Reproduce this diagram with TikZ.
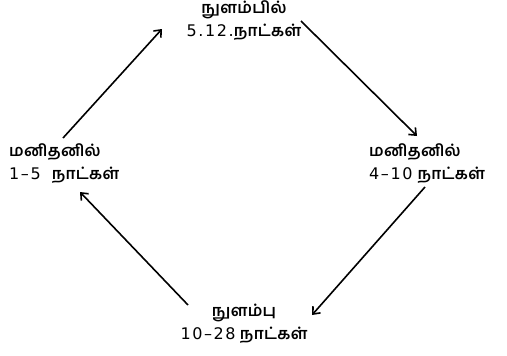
\documentclass[tikz,border=0pt]{standalone}
\usepackage{fontspec}
\usepackage{tikz}
\usetikzlibrary{arrows.meta}
\newfontfamily\tamilfont[Script=Tamil,LetterSpace=2]{Hind Madurai}
\newfontfamily\numfont[LetterSpace=10]{DejaVu Sans}

\begin{document}
\begin{tikzpicture}[x=1pt,y=-1pt]

		\tikzset{
            stage/.style={
                inner sep=0pt,
                font=\tamilfont\bfseries\fontsize{16}{23}\selectfont
            },
            cycle/.style={
                line width=1.6pt,
                -{Straight Barb[length=6pt,width=10pt,line width=1.6pt]}
            }
        }

        \newcommand{\Days}[1]{{\numfont\mdseries #1}}

        \useasboundingbox (0,0) rectangle (507,356);

        \node[stage, align=center] (mosqTop) at (244,21) {நுளம்பில்\\\Days{5.12.}நாட்கள்};
        \node[stage, align=left, anchor=west] (humanRight) at (369,164) {மனிதனில்\\\Days{4–10}\hspace{5pt}நாட்கள்};
        \node[stage, align=center] (mosqBottom) at (244,324) {நுளம்பு\\\Days{10–28} நாட்கள்};
        \node[stage, align=left, anchor=west] (humanLeft) at (9,164) {மனிதனில்\\\Days{1–5}\hspace{11pt}நாட்கள்};

        \coordinate (leftOut) at (63,138);
        \coordinate (topIn) at (162,29);
        \coordinate (topOut) at (301,21);
        \coordinate (rightIn) at (417,136);
        \coordinate (rightOut) at (425,187);
        \coordinate (bottomIn) at (312,315);
        \coordinate (bottomOut) at (188,305);
        \coordinate (leftIn) at (80,192);

        \draw[cycle] (leftOut) -- (topIn);
        \draw[cycle] (topOut) -- (rightIn);
        \draw[cycle] (rightOut) -- (bottomIn);
        \draw[cycle] (bottomOut) -- (leftIn);

\end{tikzpicture}
\end{document}
